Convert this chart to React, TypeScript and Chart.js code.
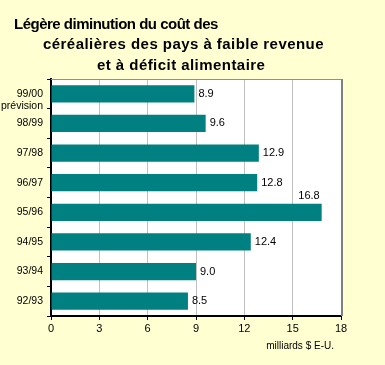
import React, { useEffect, useRef } from "react";
import { Chart, registerables } from "chart.js";

Chart.register(...registerables);

const categories = ["99/00", "98/99", "97/98", "96/97", "95/96", "94/95", "93/94", "92/93"];
const categoryNotes = ["prévision", "", "", "", "", "", "", ""];
const values = [8.9, 9.6, 12.9, 12.8, 16.8, 12.4, 9.0, 8.5];
const valueLabels = ["8.9", "9.6", "12.9", "12.8", "16.8", "12.4", "9.0", "8.5"];
const xMin = 0;
const xMax = 18;
const xStep = 3;
const titleLines = [
  "Légère diminution du coût des",
  "céréalières des pays à faible revenue",
  "et à déficit alimentaire",
];
const unitLabel = "milliards $ E-U.";

const FONT = '"Liberation Sans", Arial, sans-serif';

const frameAndLabels = {
  id: "frameAndLabels",
  beforeDraw(chart: any) {
    const { ctx, chartArea: a } = chart;
    ctx.save();
    ctx.fillStyle = "#ffffff";
    ctx.fillRect(a.left, a.top, a.right - a.left, a.bottom - a.top);
    ctx.restore();
  },
  afterDatasetsDraw(chart: any) {
    const { ctx, chartArea: a } = chart;
    const meta = chart.getDatasetMeta(0);
    ctx.save();
    ctx.font = "11px " + FONT;
    ctx.fillStyle = "#000";
    meta.data.forEach((bar: any, i: number) => {
      const txt = valueLabels[i];
      const w = ctx.measureText(txt).width;
      if (bar.x + 4 + w > a.right - 2) {
        ctx.textAlign = "right";
        ctx.textBaseline = "bottom";
        ctx.fillText(txt, bar.x - 2, bar.y - bar.height / 2 - 2);
      } else {
        ctx.textAlign = "left";
        ctx.textBaseline = "middle";
        ctx.fillText(txt, bar.x + 4, bar.y);
      }
    });
    ctx.strokeStyle = "#909090";
    ctx.lineWidth = 1;
    ctx.beginPath();
    ctx.moveTo(a.left, a.top + 0.5);
    ctx.lineTo(a.right, a.top + 0.5);
    ctx.stroke();
    ctx.strokeStyle = "#808080";
    ctx.lineWidth = 2;
    ctx.beginPath();
    ctx.moveTo(a.right + 1, a.top);
    ctx.lineTo(a.right + 1, a.bottom);
    ctx.stroke();
    ctx.restore();
  },
};

export default function App() {
  const ref = useRef<HTMLCanvasElement>(null);
  useEffect(() => {
    if (!ref.current) return;
    const labels = categories.map((c, i) => (categoryNotes[i] ? ["", c, categoryNotes[i]] : c));
    const chart = new Chart(ref.current, {
      type: "bar",
      data: {
        labels,
        datasets: [
          {
            data: values,
            backgroundColor: "#008080",
            borderWidth: 0,
            barPercentage: 0.58,
            categoryPercentage: 1,
          },
        ],
      },
      plugins: [frameAndLabels],
      options: {
        indexAxis: "y",
        animation: false,
        responsive: false,
        devicePixelRatio: 1,
        layout: { padding: { left: 0, top: 79, right: 44, bottom: 29 } },
        plugins: {
          legend: { display: false },
          title: { display: false },
          tooltip: { enabled: false },
        },
        scales: {
          x: {
            type: "linear",
            position: "bottom",
            min: xMin,
            max: xMax,
            ticks: { stepSize: xStep, color: "#000", font: { family: FONT, size: 11 }, padding: 2 },
            grid: { color: "#c0c0c0", tickColor: "#000", tickLength: 4, lineWidth: 1 },
            border: { color: "#000", width: 2 },
            afterFit: (s: any) => {
              s.height = 20;
            },
          },
          y: {
            type: "category",
            ticks: {
              color: "#000",
              font: { family: FONT, size: 10.5, lineHeight: 1.2 },
              padding: 4,
              autoSkip: false,
            },
            grid: { drawOnChartArea: false, tickColor: "#000", tickLength: 4, offset: true },
            border: { color: "#000", width: 2 },
            afterFit: (s: any) => {
              s.width = 51;
            },
          },
        },
      } as any,
    });
    return () => chart.destroy();
  }, []);

  const titleStyle = (left: number, top: number, spacing: number): React.CSSProperties => ({
    position: "absolute",
    left,
    top,
    fontFamily: FONT,
    fontSize: 15,
    fontWeight: "bold",
    lineHeight: "15px",
    letterSpacing: spacing,
    whiteSpace: "pre",
    color: "#000",
  });

  return (
    <div
      style={{
        position: "absolute",
        left: 0,
        top: 0,
        width: 385,
        height: 365,
        background: "#ffffd2",
        overflow: "hidden",
      }}
    >
      <canvas ref={ref} width={385} height={365} style={{ position: "absolute", left: 0, top: 0 }} />
      <div style={titleStyle(14, 15.5, -0.5)}>{titleLines[0]}</div>
      <div style={titleStyle(43, 36, 0.45)}>{titleLines[1]}</div>
      <div style={titleStyle(97, 56.5, 0.45)}>{titleLines[2]}</div>
      <div
        style={{
          position: "absolute",
          right: 385 - 334,
          top: 341,
          fontFamily: FONT,
          fontSize: 10,
          lineHeight: "10px",
          whiteSpace: "pre",
          color: "#000",
        }}
      >
        {unitLabel}
      </div>
    </div>
  );
}
